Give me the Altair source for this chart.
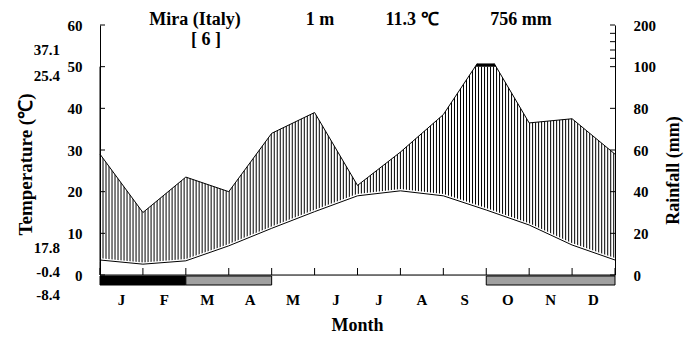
import altair as alt
import pandas as pd

# ---------------- data ----------------
months = ["J", "F", "M", "A", "M", "J", "J", "A", "S", "O", "N", "D"]
temp_c = [3.6, 2.6, 3.4, 7.0, 11.2, 15.2, 19.0, 20.2, 19.0, 15.6, 12.0, 7.2]
rain_mm = [58, 30, 47, 40, 68, 78, 43, 59, 77, 108, 73, 75]

temp_ticks = [0, 10, 20, 30, 40, 50, 60]
rain_ticks = [0, 10, 20, 30, 40, 50, 52, 54, 56, 58, 60]  # axis positions (temperature units)

frost_start = [0, 2, 9]
frost_end = [2, 4, 12]
frost_kind = ["sure", "probable", "probable"]

station = "Mira (Italy)"
years = "[ 6 ]"
elevation = "1 m"
mean_temp = "11.3 \u2103"
annual_rain = "756 mm"
extremes = ["37.1", "25.4", "17.8", "-0.4", "-8.4"]

# ---------------- tables ----------------
n = len(months)
clim = pd.DataFrame({
    "pos": list(range(n + 1)),
    "t": temp_c + [temp_c[0]],
    "r2": [v / 2 for v in rain_mm + [rain_mm[0]]],
})
wet_top = 50 + (max(rain_mm) - 100) / 10  # compressed scale above 100 mm
one = pd.DataFrame({"k": [0]})
frost = pd.DataFrame({"s": frost_start, "e": frost_end, "kind": frost_kind})
month_df = pd.DataFrame({"mid": [i + 0.5 for i in range(n)], "m": months})

FONT = "Liberation Serif"
W, H = 515, 250


def xs():
    return alt.Scale(domain=[0, n], nice=False, zero=False)


def ys():
    return alt.Scale(domain=[0, 60], nice=False, zero=False)


def X(f):
    return alt.X(f, scale=xs(), axis=None)


def Y(f):
    return alt.Y(f, scale=ys(), axis=None)


# hatch pattern (vertical rules), clipped by masks below
hatch = alt.Chart(alt.sequence(0, n + 0.001, 0.07)).mark_rule(
    color="black", strokeWidth=1
).encode(x=X("data:Q"), y=alt.Y(datum=0, scale=ys(), axis=None), y2=alt.Y2(datum=50))

band = alt.Chart(one).mark_rect(color="black").encode(
    x=alt.X(datum=0, scale=xs(), axis=None), x2=alt.X2(datum=n),
    y=alt.Y(datum=50, scale=ys(), axis=None), y2=alt.Y2(datum=wet_top))

mask_top = alt.Chart(clim).mark_area(color="white", opacity=1).encode(
    x=X("pos:Q"), y=Y("r2:Q"), y2=alt.Y2(datum=60))
mask_bot = alt.Chart(clim).mark_area(color="white", opacity=1).encode(
    x=X("pos:Q"), y=Y("t:Q"), y2=alt.Y2(datum=0))

rain_line = alt.Chart(clim).mark_line(color="black", strokeWidth=1).encode(
    x=X("pos:Q"), y=Y("r2:Q"))

mask_cap = alt.Chart(one).mark_rect(color="white").encode(
    x=alt.X(datum=0, scale=xs(), axis=None), x2=alt.X2(datum=n),
    y=alt.Y(datum=wet_top, scale=ys(), axis=None), y2=alt.Y2(datum=60))

temp_halo = alt.Chart(clim).mark_line(color="white", strokeWidth=3.5).encode(
    x=X("pos:Q"), y=Y("t:Q"))
temp_line = alt.Chart(clim).mark_line(color="black", strokeWidth=1).encode(
    x=X("pos:Q"), y=Y("t:Q"))

frost_bars = alt.Chart(frost).mark_rect(stroke="black", strokeWidth=1).encode(
    x=X("s:Q"), x2="e:Q",
    y=alt.value(H + 1), y2=alt.value(H + 10),
    color=alt.Color("kind:N", scale=alt.Scale(domain=["sure", "probable"],
                                              range=["black", "#a0a0a0"]), legend=None))

tick_left = alt.Chart(pd.DataFrame({"v": temp_ticks})).mark_rule(color="black").encode(
    y=Y("v:Q"), x=alt.value(0), x2=alt.value(5))
tick_right = alt.Chart(pd.DataFrame({"v": rain_ticks})).mark_rule(color="black").encode(
    y=Y("v:Q"), x=alt.value(W - 5), x2=alt.value(W))
tick_bottom = alt.Chart(pd.DataFrame({"v": list(range(n + 1))})).mark_rule(color="black").encode(
    x=X("v:Q"), y=alt.value(H), y2=alt.value(H - 7))
x_domain = alt.Chart(one).mark_rule(color="black", strokeWidth=1).encode(
    x=alt.X(datum=0, scale=xs(), axis=None), x2=alt.X2(datum=n),
    y=alt.Y(datum=0, scale=ys(), axis=None))

month_labels = alt.Chart(month_df).mark_text(
    font=FONT, fontWeight="bold", fontSize=15, color="black", baseline="middle"
).encode(x=X("mid:Q"), y=alt.value(H + 25), text="m:N")

left_axis = alt.Chart(clim).mark_line(opacity=0).encode(
    x=X("pos:Q"),
    y=alt.Y("t:Q", scale=ys(), axis=alt.Axis(
        orient="left", values=temp_ticks, tickSize=0, labelPadding=18, labelFont=FONT,
        labelFontWeight="bold", labelFontSize=15, labelColor="black",
        domainColor="black", grid=False, zindex=1,
        title="Temperature (\u2103)", titleFont=FONT, titleFontWeight="bold",
        titleFontSize=19, titleColor="black", titleAngle=270,
        titleX=-75, titleY=139, titleAlign="center", titleBaseline="middle")),
)

right_axis = alt.Chart(clim).mark_line(opacity=0).encode(
    x=X("pos:Q"),
    y=alt.Y("r2:Q", scale=ys(),
            axis=alt.Axis(
                orient="right", values=rain_ticks,
                labelExpr="datum.value % 10 == 0 ? (datum.value <= 50 ? datum.value * 2 : 100 + (datum.value - 50) * 10) : ''",
                tickSize=0, labelPadding=18, labelFont=FONT, labelFontWeight="bold",
                labelFontSize=15, labelColor="black", domainColor="black",
                grid=False, zindex=1, labelAlign="left",
                title="Rainfall (mm)", titleFont=FONT, titleFontWeight="bold",
                titleFontSize=18, titleColor="black", titleAngle=270,
                titleX=58, titleY=145, titleAlign="center", titleBaseline="middle")),
)


def txt(s, x, y, size=18, align="center"):
    return alt.Chart(pd.DataFrame({"s": [s]})).mark_text(
        font=FONT, fontWeight="bold", fontSize=size, color="black",
        align=align, baseline="middle").encode(
        text="s:N", x=alt.value(x), y=alt.value(y))


texts = [
    txt(station, 95, -5), txt(years, 106, 15), txt(elevation, 220, -5),
    txt(mean_temp, 312, -5), txt(annual_rain, 421, -5),
    txt("Month", W / 2, H + 51, size=18),
]
ext_y = [25, 51, 223, 247, 270]
for s, yy in zip(extremes, ext_y):
    texts.append(txt(s, -40, yy, size=15, align="right"))

chart = alt.layer(
    hatch, band, mask_top, mask_bot, rain_line, mask_cap,
    temp_halo, temp_line, frost_bars, x_domain, tick_left, tick_right,
    tick_bottom, month_labels, left_axis, right_axis, *texts
).resolve_scale(y="independent").properties(
    width=W, height=H,
    autosize=alt.AutoSizeParams(type="none"),
    padding={"left": 92, "top": 17, "right": 71, "bottom": 62},
).configure_view(stroke="transparent").configure(background="white")

chart.save("out.html", embed_options={"renderer": "svg", "actions": False})
